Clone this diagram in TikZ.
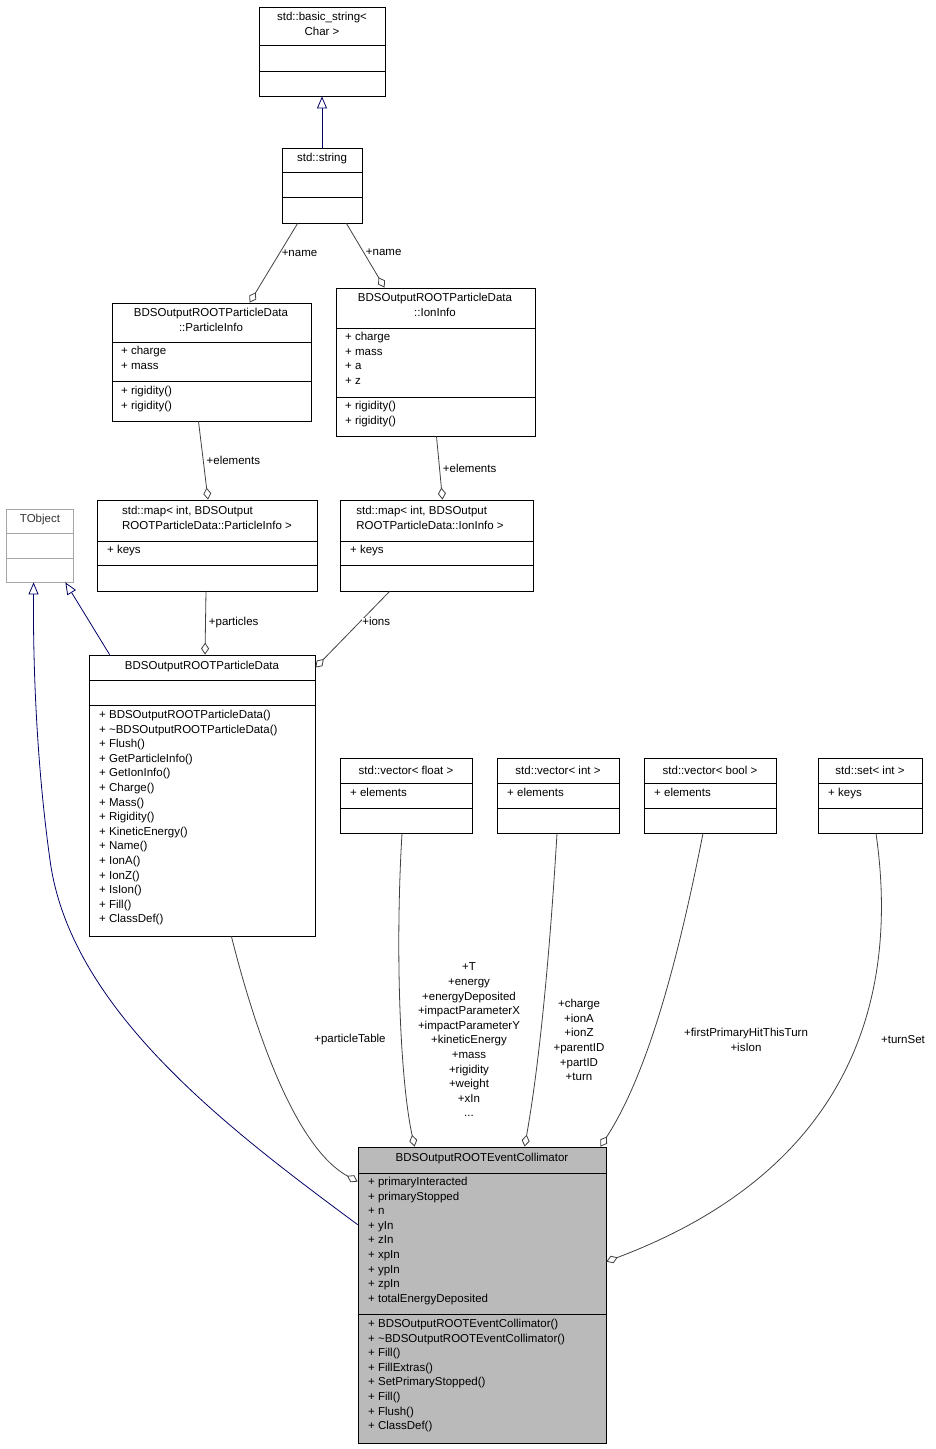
\documentclass[tikz,border=0pt]{standalone}
\usepackage{fontspec}
\setmainfont{Liberation Sans}
\usetikzlibrary{arrows.meta,calc}
\tikzstyle{cls}=[draw=black, rectangle, inner sep=0pt, line width=0.8pt]
\tikzstyle{txt}=[inner sep=0pt, font=\fontsize{11.5}{14.6}\selectfont]
\tikzstyle{lbl}=[txt, align=center, fill=white]
\tikzstyle{agg}=[draw=black!75, line width=0.8pt, -{Diamond[open,length=12pt,width=8pt]}]
\tikzstyle{inh}=[draw=blue!40!black, line width=0.8pt, -{Triangle[open,length=12pt,width=10pt]}]
% class box: name, x1, y1, x2, y2
\newcommand{\cbox}[6][cls]{\node[#1, minimum width={(#5-#3)*1pt}, minimum height={(#6-#4)*1pt}] (#2) at ({(#3+#5)/2},{(#4+#6)/2}) {};}
\newcommand{\divl}[3]{\draw[line width=0.8pt] (#1,#3) -- (#2,#3);}
\begin{document}
\begin{tikzpicture}[x=1pt, y=-1pt]
\useasboundingbox (0,0) rectangle (935,1449);
% boxes
\cbox{bstr}{259}{7}{385}{96}
\node[txt, align=center] (bstrT) at (322,24) {std::basic\_string<\\Char >};
\divl{259}{385}{45} \divl{259}{385}{71}
\cbox{str}{282}{148}{362}{223}
\node[txt] (strT) at (322,159) {std::string};
\divl{282}{362}{172} \divl{282}{362}{197}
\cbox{pinfo}{112}{303}{311}{421}
\node[txt, align=center] (pinfoT) at (211,320) {BDSOutputROOTParticleData\\::ParticleInfo};
\divl{112}{311}{342} \divl{112}{311}{381}
\node[txt, anchor=north west, align=left] at (121,346) {+ charge\\+ mass};
\node[txt, anchor=north west, align=left] at (121,386) {+ rigidity()\\+ rigidity()};
\cbox{iinfo}{336}{288}{535}{436}
\node[txt, align=center] (iinfoT) at (435,305) {BDSOutputROOTParticleData\\::IonInfo};
\divl{336}{535}{328} \divl{336}{535}{397}
\node[txt, anchor=north west, align=left] at (345,332) {+ charge\\+ mass\\+ a\\+ z};
\node[txt, anchor=north west, align=left] at (345,401) {+ rigidity()\\+ rigidity()};
\cbox{pmap}{97}{500}{317}{591}
\node[txt, align=left] (pmapT) at (207,518) {std::map< int, BDSOutput\\ROOTParticleData::ParticleInfo >};
\divl{97}{317}{541} \divl{97}{317}{565}
\node[txt, anchor=north west] at (107,545) {+ keys};
\cbox{imap}{340}{500}{533}{591}
\node[txt, align=left] (imapT) at (430,518) {std::map< int, BDSOutput\\ROOTParticleData::IonInfo >};
\divl{340}{533}{541} \divl{340}{533}{565}
\node[txt, anchor=north west] at (350,545) {+ keys};
\cbox[cls, draw=black!35]{tobj}{6}{509}{73}{582}
\node[txt, text=black!80] (tobjT) at (40,520) {TObject};
\draw[black!35, line width=0.8pt] (6,533) -- (73,533) (6,558) -- (73,558);
\cbox{pdata}{89}{655}{315}{936}
\node[txt] (pdataT) at (202,667) {BDSOutputROOTParticleData};
\divl{89}{315}{680} \divl{89}{315}{705}
\node[txt, anchor=north west, align=left] at (99,710) {+ BDSOutputROOTParticleData()\\+ \textasciitilde BDSOutputROOTParticleData()\\+ Flush()\\+ GetParticleInfo()\\+ GetIonInfo()\\+ Charge()\\+ Mass()\\+ Rigidity()\\+ KineticEnergy()\\+ Name()\\+ IonA()\\+ IonZ()\\+ IsIon()\\+ Fill()\\+ ClassDef()};
\cbox{vflt}{340}{758}{472}{833}
\node[txt] (vfltT) at (406,770) {std::vector< float >};
\divl{340}{472}{783} \divl{340}{472}{808}
\node[txt, anchor=north west] at (350,788) {+ elements};
\cbox{vint}{497}{758}{619}{833}
\node[txt] (vintT) at (558,770) {std::vector< int >};
\divl{497}{619}{783} \divl{497}{619}{808}
\node[txt, anchor=north west] at (507,788) {+ elements};
\cbox{vbool}{644}{758}{776}{833}
\node[txt] (vboolT) at (710,770) {std::vector< bool >};
\divl{644}{776}{783} \divl{644}{776}{808}
\node[txt, anchor=north west] at (654,788) {+ elements};
\cbox{sint}{818}{758}{922}{833}
\node[txt] (sintT) at (870,770) {std::set< int >};
\divl{818}{922}{783} \divl{818}{922}{808}
\node[txt, anchor=north west] at (828,788) {+ keys};
\cbox[cls, fill=black!27]{coll}{358}{1147}{606}{1443}
\node[txt] (collT) at (482,1159) {BDSOutputROOTEventCollimator};
\divl{358}{606}{1173} \divl{358}{606}{1314}
\node[txt, anchor=north west, align=left] at (368,1177) {+ primaryInteracted\\+ primaryStopped\\+ n\\+ yIn\\+ zIn\\+ xpIn\\+ ypIn\\+ zpIn\\+ totalEnergyDeposited};
\node[txt, anchor=north west, align=left] at (368,1319) {+ BDSOutputROOTEventCollimator()\\+ \textasciitilde BDSOutputROOTEventCollimator()\\+ Fill()\\+ FillExtras()\\+ SetPrimaryStopped()\\+ Fill()\\+ Flush()\\+ ClassDef()};
% connectors
\draw[inh] (str.north) -- (bstr.south);
\draw[agg] ([xshift=16]str.south west) -- ([xshift=138]pinfo.north west) node[lbl, pos=0.38, right=2pt] {+name};
\draw[agg] ([xshift=-16]str.south east) -- ([xshift=49]iinfo.north west) node[lbl, pos=0.45, right=2pt] {+name};
\draw[agg] ([xshift=-13]pinfo.south) -- ([xshift=1]pmap.north) node[lbl, midway, right=3pt] {+elements};
\draw[agg] ([xshift=1]iinfo.south) -- ([xshift=6]imap.north) node[lbl, midway, right=3pt] {+elements};
\draw[agg] ([xshift=-1]pmap.south) -- ([xshift=3]pdata.north) node[lbl, midway, right=3pt] {+particles};
\draw[agg] ([xshift=50]imap.south west) -- ([yshift=-13]pdata.north east) node[lbl, pos=0.4, right=2pt] {+ions};
\draw[inh] ([xshift=21]pdata.north west) -- ([xshift=-8]tobj.south east);
\draw[inh] ([yshift=-78]coll.north west) .. controls (230,1130) and (70,1010) .. (50,860) .. controls (36,760) and (33,660) .. ([xshift=28]tobj.south west);
\draw[agg] ([xshift=-84]pdata.south east) .. controls (260,1050) and (300,1150) .. ([yshift=-35]coll.north west);
\node[lbl] (ptl) at (350,1040) {+particleTable};
\draw[agg] ([xshift=-4]vflt.south) .. controls (395,950) and (400,1080) .. ([xshift=57]coll.north west);
\node[lbl] (vfltL) at (469,1040) {+T\\+energy\\+energyDeposited\\+impactParameterX\\+impactParameterY\\+kineticEnergy\\+mass\\+rigidity\\+weight\\+xIn\\...};
\draw[agg] ([xshift=-1]vint.south) .. controls (550,950) and (540,1060) .. ([xshift=167]coll.north west);
\node[lbl] (vintL) at (579,1040) {+charge\\+ionA\\+ionZ\\+parentID\\+partID\\+turn};
\draw[agg] ([xshift=-7]vbool.south) .. controls (680,950) and (650,1070) .. ([xshift=-6]coll.north east);
\node[lbl] (vboolL) at (746,1040) {+firstPrimaryHitThisTurn\\+isIon};
\draw[agg] ([xshift=6]sint.south) .. controls (900,1000) and (850,1170) .. ([yshift=-115]coll.north east);
\node[lbl] (sintL) at (903,1040) {+turnSet};
\end{tikzpicture}
\end{document}
